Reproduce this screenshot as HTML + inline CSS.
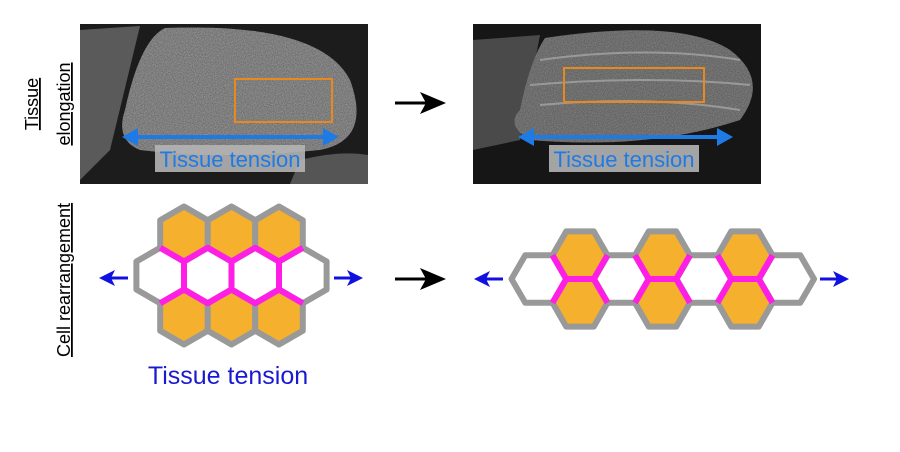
<!DOCTYPE html>
<html><head><meta charset="utf-8"><style>
html,body{margin:0;padding:0;background:#fff;width:900px;height:452px;overflow:hidden}
svg{display:block}
text{font-family:"Liberation Sans",sans-serif}
</style></head><body>
<svg width="900" height="452" viewBox="0 0 900 452" xmlns="http://www.w3.org/2000/svg">
<defs>
<filter id="nz" x="0" y="0" width="100%" height="100%">
<feTurbulence type="fractalNoise" baseFrequency="0.9" numOctaves="2" seed="3" result="t"/>
<feColorMatrix in="t" type="matrix" values="0 0 0 0 0.5  0 0 0 0 0.5  0 0 0 0 0.5  0 0 0 0.9 -0.2"/>
<feComposite in2="SourceGraphic" operator="in"/>
</filter>
<clipPath id="c1"><rect x="80" y="24" width="288" height="160"/></clipPath>
<clipPath id="c2"><rect x="473" y="24" width="288" height="160"/></clipPath>
</defs>

<!-- left photo -->
<g clip-path="url(#c1)">
<rect x="80" y="24" width="288" height="160" fill="#1c1c1c"/>
<path d="M80 30 L140 26 L110 150 L80 180Z" fill="#5a5a5a"/>
<path d="M165 28 Q320 22 350 80 Q372 140 320 150 Q220 160 140 150 Q115 140 125 110 Q140 40 165 28Z" fill="#6a6a6a"/>
<path d="M165 28 Q320 22 350 80 Q372 140 320 150 Q220 160 140 150 Q115 140 125 110 Q140 40 165 28Z" fill="#fff" filter="url(#nz)"/>
<path d="M300 160 Q340 150 368 155 L368 184 L290 184Z" fill="#555"/>
</g>
<rect x="235" y="79" width="97" height="43" fill="none" stroke="#e8891e" stroke-width="2"/>

<!-- right photo -->
<g clip-path="url(#c2)">
<rect x="473" y="24" width="288" height="160" fill="#161616"/>
<path d="M473 40 L540 35 L520 140 L473 150Z" fill="#4a4a4a"/>
<path d="M545 38 Q680 18 730 50 Q770 80 740 120 Q650 150 530 140 Q505 125 520 110 Q530 60 545 38Z" fill="#5e5e5e"/>
<path d="M545 38 Q680 18 730 50 Q770 80 740 120 Q650 150 530 140 Q505 125 520 110 Q530 60 545 38Z" fill="#fff" filter="url(#nz)" opacity="0.7"/>
<path d="M540 60 Q650 45 740 60 M530 85 Q650 75 750 85 M540 105 Q650 95 740 110" stroke="#999" stroke-width="2" fill="none"/>
</g>
<rect x="564" y="68" width="140" height="34" fill="none" stroke="#e8891e" stroke-width="2"/>

<!-- blue arrows on photos -->
<g fill="#1e7be6" stroke="#1e7be6">
<line x1="134" y1="137" x2="326" y2="137" stroke-width="4"/>
<polygon points="122,137 138,128 138,146" stroke="none"/>
<polygon points="339,137 323,128 323,146" stroke="none"/>
<line x1="530" y1="137" x2="720" y2="137" stroke-width="4"/>
<polygon points="518,137 534,128 534,146" stroke="none"/>
<polygon points="733,137 717,128 717,146" stroke="none"/>
</g>
<rect x="155" y="145" width="150" height="27" fill="#b4b4b4" opacity="0.9"/>
<text x="230" y="167" font-size="22" fill="#1e7be6" text-anchor="middle">Tissue tension</text>
<rect x="549" y="145" width="150" height="27" fill="#b4b4b4" opacity="0.9"/>
<text x="624" y="167" font-size="22" fill="#1e7be6" text-anchor="middle">Tissue tension</text>

<!-- black arrows -->
<g fill="#000">
<line x1="395" y1="103" x2="430" y2="103" stroke="#000" stroke-width="3"/>
<polygon points="446,103 420,92 426,103 420,114"/>
<line x1="395" y1="279" x2="430" y2="279" stroke="#000" stroke-width="3"/>
<polygon points="446,279 420,268 426,279 420,290"/>
</g>

<!-- side labels -->
<text transform="translate(38,104) rotate(-90)" font-size="18" fill="#000" text-anchor="middle" text-decoration="underline">Tissue</text>
<text transform="translate(70,104) rotate(-90)" font-size="18" fill="#000" text-anchor="middle" text-decoration="underline">elongation</text>
<text transform="translate(70,280) rotate(-90)" font-size="18" fill="#000" text-anchor="middle" text-decoration="underline">Cell rearrangement</text>

<!-- left hex diagram -->
<g stroke="#999" stroke-width="6" stroke-linejoin="round">
<g fill="#f5b02e">
<polygon points="184,206.5 207.8,220.25 207.8,247.75 184,261.5 160.2,247.75 160.2,220.25"/>
<polygon points="231.5,206.5 255.3,220.25 255.3,247.75 231.5,261.5 207.7,247.75 207.7,220.25"/>
<polygon points="279,206.5 302.8,220.25 302.8,247.75 279,261.5 255.2,247.75 255.2,220.25"/>
<polygon points="184,289.5 207.8,303.25 207.8,330.75 184,344.5 160.2,330.75 160.2,303.25"/>
<polygon points="231.5,289.5 255.3,303.25 255.3,330.75 231.5,344.5 207.7,330.75 207.7,303.25"/>
<polygon points="279,289.5 302.8,303.25 302.8,330.75 279,344.5 255.2,330.75 255.2,303.25"/>
</g>
<g fill="#fff">
<polygon points="160.2,247.75 184,261.5 184,289.5 160.2,303.25 136.4,289.5 136.4,261.5"/>
<polygon points="207.7,247.75 231.5,261.5 231.5,289.5 207.7,303.25 184,289.5 184,261.5"/>
<polygon points="255.2,247.75 279,261.5 279,289.5 255.2,303.25 231.5,289.5 231.5,261.5"/>
<polygon points="302.8,247.75 326.6,261.5 326.6,289.5 302.8,303.25 279,289.5 279,261.5"/>
</g>
</g>
<g stroke="#ff1ee6" stroke-width="6" fill="none" stroke-linejoin="round">
<polyline points="160.2,247.75 184,261.5 207.7,247.75 231.5,261.5 255.2,247.75 279,261.5 302.8,247.75"/>
<polyline points="160.2,303.25 184,289.5 207.7,303.25 231.5,289.5 255.2,303.25 279,289.5 302.8,303.25"/>
<line x1="184" y1="261.5" x2="184" y2="289.5"/>
<line x1="231.5" y1="261.5" x2="231.5" y2="289.5"/>
<line x1="279" y1="261.5" x2="279" y2="289.5"/>
</g>
<g fill="#1010e0" stroke="#1010e0">
<line x1="110" y1="278" x2="128" y2="278" stroke-width="3"/>
<polygon points="99,278 115,270 111,278 115,286" stroke="none"/>
<line x1="334" y1="278" x2="352" y2="278" stroke-width="3"/>
<polygon points="363,278 347,270 351,278 347,286" stroke="none"/>
</g>
<text x="228" y="384" font-size="25" fill="#1a1ad0" text-anchor="middle">Tissue tension</text>

<!-- right hex diagram -->
<g stroke="#999" stroke-width="6" stroke-linejoin="round" fill="#fff">
<polygon points="566.5,279 552.75,302.8 525.25,302.8 511.5,279 525.25,255.2 552.75,255.2"/>
<polygon points="649,279 635.25,302.8 607.75,302.8 594,279 607.75,255.2 635.25,255.2"/>
<polygon points="731.5,279 717.75,302.8 690.25,302.8 676.5,279 690.25,255.2 717.75,255.2"/>
<polygon points="814,279 800.25,302.8 772.75,302.8 759,279 772.75,255.2 800.25,255.2"/>
<g fill="#f5b02e">
<polygon points="607.5,255.2 593.75,279 566.25,279 552.5,255.2 566.25,231.4 593.75,231.4"/>
<polygon points="607.5,302.8 593.75,326.6 566.25,326.6 552.5,302.8 566.25,279 593.75,279"/>
<polygon points="690,255.2 676.25,279 648.75,279 635,255.2 648.75,231.4 676.25,231.4"/>
<polygon points="690,302.8 676.25,326.6 648.75,326.6 635,302.8 648.75,279 676.25,279"/>
<polygon points="772.5,255.2 758.75,279 731.25,279 717.5,255.2 731.25,231.4 758.75,231.4"/>
<polygon points="772.5,302.8 758.75,326.6 731.25,326.6 717.5,302.8 731.25,279 758.75,279"/>
</g>
</g>
<g stroke="#ff1ee6" stroke-width="6" fill="none" stroke-linejoin="round">
<path d="M552.5,255.2 L566.25,279 L552.5,302.8 M566.25,279 L593.75,279 M607.5,255.2 L593.75,279 L607.5,302.8"/>
<path d="M635,255.2 L648.75,279 L635,302.8 M648.75,279 L676.25,279 M690,255.2 L676.25,279 L690,302.8"/>
<path d="M717.5,255.2 L731.25,279 L717.5,302.8 M731.25,279 L758.75,279 M772.5,255.2 L758.75,279 L772.5,302.8"/>
</g>
<g fill="#1010e0" stroke="#1010e0">
<line x1="485" y1="279" x2="503" y2="279" stroke-width="3"/>
<polygon points="474,279 490,271 486,279 490,287" stroke="none"/>
<line x1="820" y1="279" x2="838" y2="279" stroke-width="3"/>
<polygon points="849,279 833,271 837,279 833,287" stroke="none"/>
</g>
</svg>
</body></html>
